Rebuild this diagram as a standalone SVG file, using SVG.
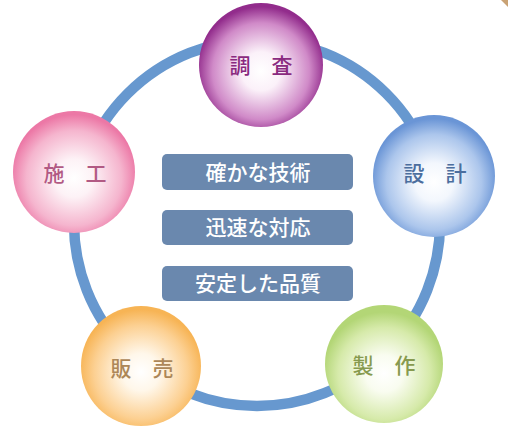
<svg xmlns="http://www.w3.org/2000/svg" width="508" height="432" viewBox="0 0 508 432">
  <style>
    .ring { fill: none; stroke: #6798cf; stroke-width: 10.5; }
    .lbl { font-family: "Noto Sans CJK JP", "Noto Sans", sans-serif; font-size: 21px; font-weight: 500; text-anchor: middle; }
    .box { fill: #6a88ae; }
    .boxt { font-family: "Noto Sans CJK JP", "Noto Sans", sans-serif; font-size: 21px; font-weight: 500; fill: #ffffff; text-anchor: middle; }
  </style>
  <defs>
    <radialGradient id="gPurple" cx="50%" cy="55%" r="52%">
      <stop offset="0" stop-color="#ffffff"/>
      <stop offset="0.3" stop-color="#fbf1f9"/>
      <stop offset="0.75" stop-color="#d08ac8"/>
      <stop offset="1" stop-color="#922c8c"/>
    </radialGradient>
    <radialGradient id="gBlue" cx="50%" cy="55%" r="52%">
      <stop offset="0" stop-color="#ffffff"/>
      <stop offset="0.3" stop-color="#f3f7fd"/>
      <stop offset="0.75" stop-color="#acc6ec"/>
      <stop offset="1" stop-color="#6a95d6"/>
    </radialGradient>
    <radialGradient id="gPink" cx="50%" cy="55%" r="52%">
      <stop offset="0" stop-color="#ffffff"/>
      <stop offset="0.3" stop-color="#fdf2f6"/>
      <stop offset="0.75" stop-color="#f5b5ce"/>
      <stop offset="1" stop-color="#ec78a6"/>
    </radialGradient>
    <radialGradient id="gOrange" cx="50%" cy="55%" r="52%">
      <stop offset="0" stop-color="#ffffff"/>
      <stop offset="0.3" stop-color="#fff7ea"/>
      <stop offset="0.75" stop-color="#fcd092"/>
      <stop offset="1" stop-color="#f7b455"/>
    </radialGradient>
    <radialGradient id="gGreen" cx="50%" cy="58%" r="52%">
      <stop offset="0" stop-color="#ffffff"/>
      <stop offset="0.3" stop-color="#f9fcf0"/>
      <stop offset="0.75" stop-color="#d6eaaa"/>
      <stop offset="1" stop-color="#b3d676"/>
    </radialGradient>
  </defs>

  <rect width="508" height="432" fill="#ffffff"/>
  <polygon points="501,0 508,0 508,7" fill="#c9a274"/>

  <g id="connectors">
    <circle class="ring" cx="257" cy="223" r="183"/>
  </g>

  <g id="node-chousa">
    <circle cx="261" cy="65" r="62" fill="url(#gPurple)"/>
    <text class="lbl" x="261" y="73" fill="#8a2a80">調　査</text>
  </g>
  <g id="node-sekkei">
    <circle cx="434" cy="176" r="61" fill="url(#gBlue)"/>
    <text class="lbl" x="435" y="181" fill="#4b6e9e">設　計</text>
  </g>
  <g id="node-seko">
    <circle cx="74" cy="172" r="61" fill="url(#gPink)"/>
    <text class="lbl" x="75" y="181" fill="#b25a84">施　工</text>
  </g>
  <g id="node-hanbai">
    <circle cx="141" cy="366" r="60" fill="url(#gOrange)"/>
    <text class="lbl" x="142" y="376" fill="#ad8758">販　売</text>
  </g>
  <g id="node-seisaku">
    <circle cx="384" cy="364" r="59" fill="url(#gGreen)"/>
    <text class="lbl" x="384" y="373" fill="#879a4e">製　作</text>
  </g>

  <g id="label-1">
    <rect class="box" x="162" y="154" width="191" height="36" rx="5"/>
    <text class="boxt" x="258" y="180">確かな技術</text>
  </g>
  <g id="label-2">
    <rect class="box" x="162" y="210" width="191" height="35" rx="5"/>
    <text class="boxt" x="258" y="235">迅速な対応</text>
  </g>
  <g id="label-3">
    <rect class="box" x="162" y="266" width="191" height="35" rx="5"/>
    <text class="boxt" x="258" y="291">安定した品質</text>
  </g>
</svg>
